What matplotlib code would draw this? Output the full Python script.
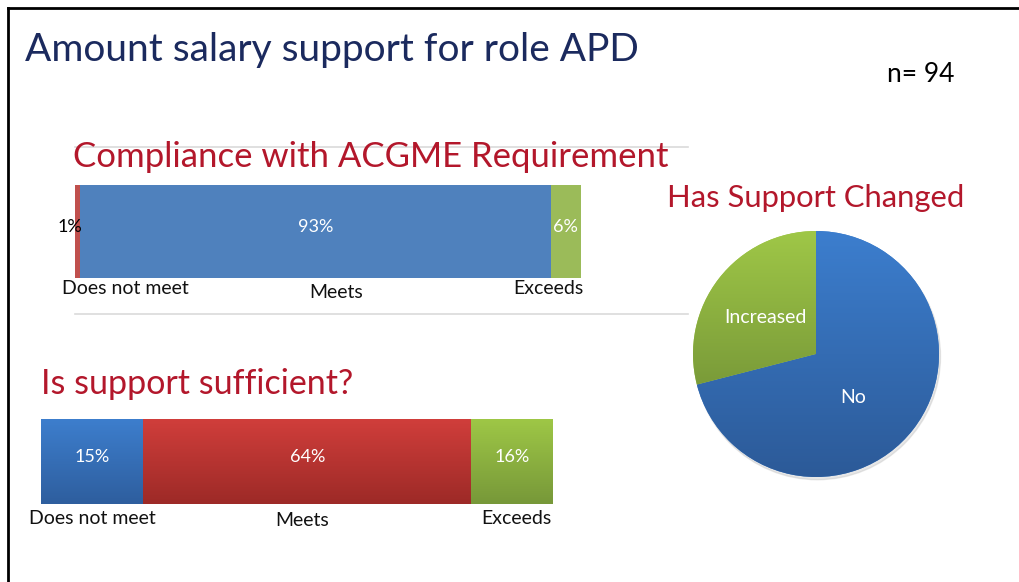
import matplotlib.pyplot as plt
import numpy as np
from matplotlib.colors import to_rgb
from matplotlib.lines import Line2D
from matplotlib.patches import Circle

W, H = 1020, 582

# data
categories = ["Does not meet", "Meets", "Exceeds"]
compliance = [1, 93, 6]
compliance_labels = ["1%", "93%", "6%"]
sufficient = [20, 64, 16]
sufficient_labels = ["15%", "64%", "16%"]
changed_names = ["No", "Increased"]
changed = [71, 29]

navy = "#1B2A5E"
dark_red = "#B3172B"

plt.rcParams["font.family"] = ["Lato", "DejaVu Sans"]


def px(x, y):
    return x / W, 1 - y / H


def gradient(ax, patch, top, bottom):
    bb = patch.get_path().get_extents(patch.get_patch_transform())
    c = np.linspace(0, 1, 128)[:, None, None]
    img = (1 - c) * np.array(to_rgb(top)) + c * np.array(to_rgb(bottom))
    im = ax.imshow(img, extent=(bb.x0, bb.x1, bb.y0, bb.y1), origin="upper",
                   aspect="auto", zorder=patch.get_zorder() + 0.1,
                   interpolation="bilinear")
    im.set_clip_path(patch)


fig = plt.figure(figsize=(W / 100, H / 100), dpi=100)

# frame lines
fig.add_artist(Line2D([8 / W, 8 / W], [0, 1 - 8 / H], color="black", lw=2))
fig.add_artist(Line2D([8 / W, 1], [1 - 8 / H, 1 - 8 / H], color="black", lw=2))
# separators
for yy in (147, 314):
    fig.add_artist(Line2D([75 / W, 688 / W], [1 - yy / H] * 2, color="#DADADA", lw=1.2))

fig.text(*px(25, 50), "Amount salary support for role APD", color=navy,
         fontsize=28, ha="left", va="center")
fig.text(*px(887, 75), "n= 94", color="black", fontsize=19, ha="left", va="center")
fig.text(*px(73, 157), "Compliance with ACGME Requirement", color=dark_red,
         fontsize=25, ha="left", va="center")
fig.text(*px(667, 198), "Has Support Changed", color=dark_red,
         fontsize=22.3, ha="left", va="center")
fig.text(*px(41, 384), "Is support sufficient?", color=dark_red,
         fontsize=24.5, ha="left", va="center")

# top bar
ax1 = fig.add_axes([75 / W, 1 - 278 / H, 506 / W, 93 / H])
left = 0
colors1 = ["#C0504D", "#4F81BD", "#9BBB59"]
for v, lab, col in zip(compliance, compliance_labels, colors1):
    ax1.barh(0, v, left=left, height=1, color=col)
    xt = left + v / 2
    tc = "white"
    if v < 2:
        xt = left - 1.0
        tc = "black"
    ax1.text(xt, 0.05, lab, color=tc, ha="center", va="center", fontsize=13)
    left += v
ax1.set_xlim(0, sum(compliance))
ax1.set_ylim(-0.5, 0.5)
ax1.axis("off")

for name, (x, y) in zip(categories, [(125, 289), (336, 292), (548, 289)]):
    fig.text(*px(x, y), name, fontsize=14, ha="center", va="center", color="#111111")

# bottom bar
ax2 = fig.add_axes([41 / W, 1 - 504 / H, 512 / W, 85 / H])
grads = [("#3D7ECD", "#2E5E9E"), ("#D03E3B", "#9D2A27"), ("#9EC746", "#779839")]
left = 0
for v, lab, (top, bot) in zip(sufficient, sufficient_labels, grads):
    bars = ax2.barh(0, v, left=left, height=1, color=top)
    gradient(ax2, bars[0], top, bot)
    ax2.text(left + v / 2, 0.05, lab, color="white", ha="center", va="center",
             fontsize=13, zorder=5)
    left += v
ax2.set_xlim(0, sum(sufficient))
ax2.set_ylim(-0.5, 0.5)
ax2.axis("off")

for name, (x, y) in zip(categories, [(92, 518), (302, 521), (516, 518)]):
    fig.text(*px(x, y), name, fontsize=14, ha="center", va="center", color="#111111")

# pie
r = 123
ax3 = fig.add_axes([(816 - r) / W, 1 - (354 + r) / H, 2 * r / W, 2 * r / H])
ax3.add_patch(Circle((0.012, -0.022), 1.0, color="#BBBBBB", alpha=0.35,
                     zorder=0, clip_on=False))
wedges, _ = ax3.pie(changed, startangle=90, counterclock=False,
                    colors=["#3B7DCD", "#9EC646"])
gradient(ax3, wedges[0], "#3C7ECE", "#2C5A98")
gradient(ax3, wedges[1], "#9FC747", "#7A9B39")
ax3.text(0.30, -0.35, changed_names[0], color="white", fontsize=14,
         ha="center", va="center", zorder=5)
ax3.text(-0.41, 0.30, changed_names[1], color="white", fontsize=14,
         ha="center", va="center", zorder=5)
ax3.set_xlim(-1, 1)
ax3.set_ylim(-1, 1)
ax3.set_aspect("equal")
ax3.axis("off")

fig.savefig("out.png", dpi=100)
